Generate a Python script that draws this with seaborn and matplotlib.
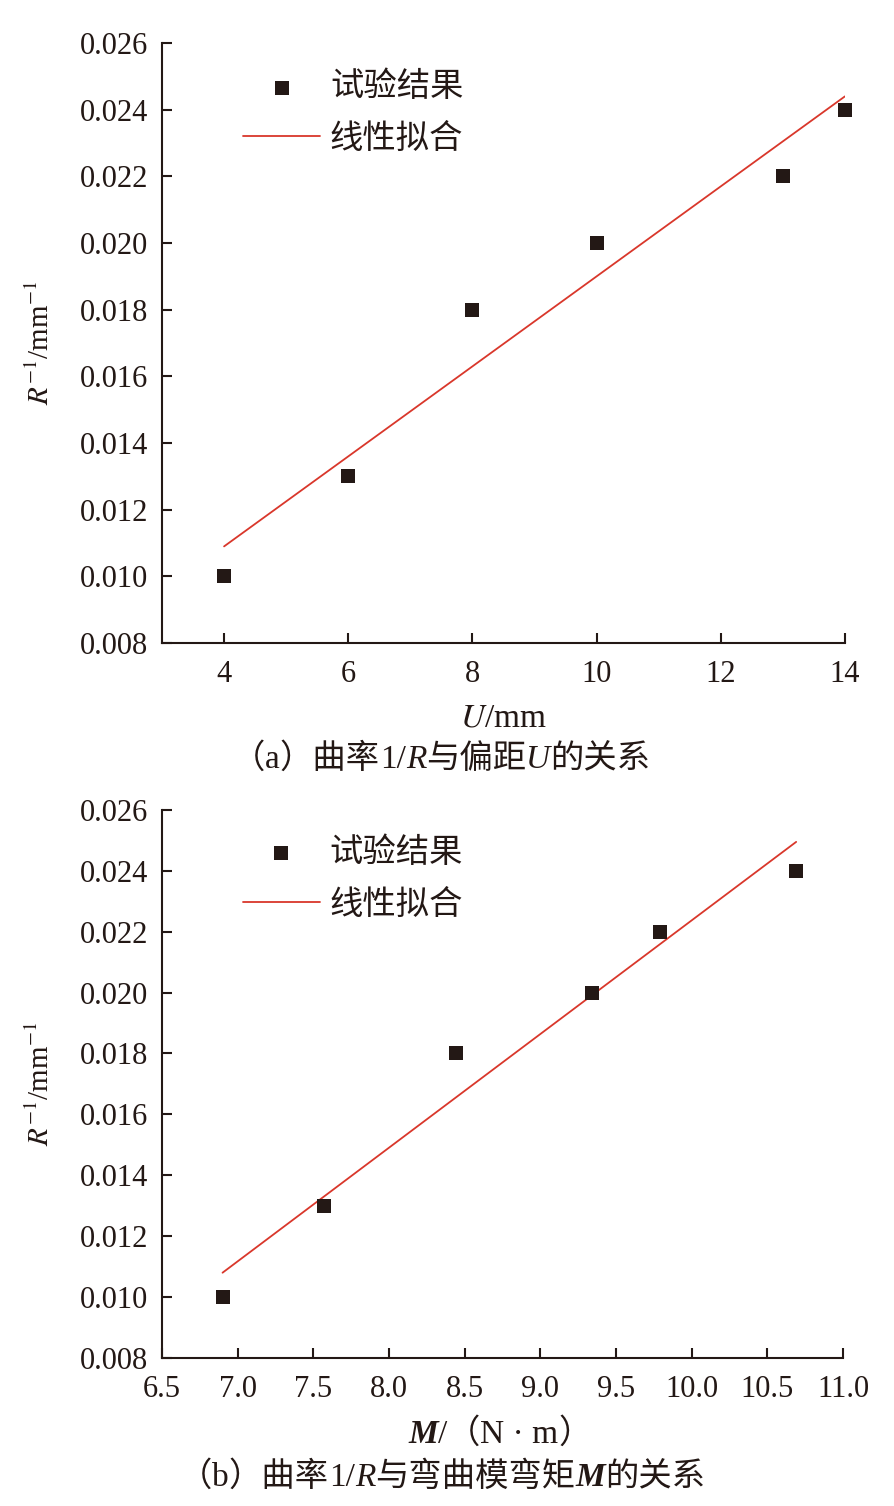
import matplotlib
matplotlib.use("Agg")
import matplotlib.pyplot as plt
import seaborn as sns
import pandas as pd

# ---- data ----
u_mm = [4, 6, 8, 10, 13, 14]
curv_a = [0.010, 0.013, 0.018, 0.020, 0.022, 0.024]
fit_a_x = [4, 14]
fit_a_y = [0.0109, 0.0244]

m_nm = [6.90, 7.57, 8.44, 9.34, 9.79, 10.69]
curv_b = [0.010, 0.013, 0.018, 0.020, 0.022, 0.024]
fit_b_x = [6.90, 10.69]
fit_b_y = [0.0108, 0.02495]

yticks = [0.008, 0.010, 0.012, 0.014, 0.016, 0.018, 0.020, 0.022, 0.024, 0.026]
xticks_a = [4, 6, 8, 10, 12, 14]
xticks_b = [6.5, 7.0, 7.5, 8.0, 8.5, 9.0, 9.5, 10.0, 10.5, 11.0]

legend_pts = "试验结果"
legend_fit = "线性拟合"
# rich-text pieces: (text, style): 'c' CJK, 'n' serif, 'i' italic, 'bi' bold italic
cap_a = [("（", 'c'), ("a", 'n'), ("）曲率", 'c'), ("1/", 'n'), ("R", 'i'),
         ("与偏距", 'c'), ("U", 'i'), ("的关系", 'c')]
cap_b = [("（", 'c'), ("b", 'n'), ("）曲率", 'c'), ("1/", 'n'), ("R", 'i'),
         ("与弯曲模弯矩", 'c'), ("M", 'bi'), ("的关系", 'c')]
xlab_b = [("M", 'bi'), ("/", 'n'), ("（", 'c'), ("N · m", 'n'), ("）", 'c')]

sns.set_style("ticks")
SERIF = 'Liberation Serif'
CJK = 'Noto Sans CJK SC'
FAM = [SERIF, CJK, 'DejaVu Sans']
plt.rcParams['font.family'] = FAM
plt.rcParams['mathtext.fontset'] = 'stix'
plt.rcParams['axes.unicode_minus'] = False

PT = '#231815'
RED = '#d9372b'
FS_NUM = 22
FS_TXT = 24

fig = plt.figure(figsize=(8.95, 15.06), dpi=100)
ax1 = fig.add_axes([0.181, 0.5730, 0.763, 0.3984])
ax2 = fig.add_axes([0.181, 0.0983, 0.761, 0.3639])

def style(ax, xt, xlim, fmt, top):
    ax.set_ylim(0.008, 0.026)
    ax.set_xlim(*xlim)
    ax.set_yticks(yticks)
    ax.set_yticklabels([f"{v:.3f}" for v in yticks], fontsize=FS_NUM, color=PT)
    ax.set_xticks(xt)
    ax.set_xticklabels([fmt(v) for v in xt], fontsize=FS_NUM, color=PT)
    for s in ['top', 'right']:
        ax.spines[s].set_visible(False)
    for s in ['left', 'bottom']:
        ax.spines[s].set_linewidth(1.5)
        ax.spines[s].set_color(PT)
    ax.tick_params(direction='in', length=7, width=1.5, colors=PT, pad=10)
    ax.tick_params(axis='x', pad=12)
    ax.set_ylabel("$R^{-1}$/mm$^{-1}$", fontsize=21, labelpad=18, color=PT)
    leg = ax.legend(loc='upper left', bbox_to_anchor=(0.119, top), frameon=False,
                    fontsize=FS_TXT, handlelength=2.3, handletextpad=0.3,
                    labelspacing=0.5, borderpad=0, borderaxespad=0,
                    prop={'family': CJK, 'size': FS_TXT})
    for t in leg.get_texts():
        t.set_color(PT)

df_a = pd.DataFrame({'x': u_mm, 'y': curv_a})
sns.scatterplot(data=df_a, x='x', y='y', ax=ax1, marker='s', s=95, color=PT,
                edgecolor=PT, linewidth=0, label=legend_pts, zorder=3, clip_on=False)
sns.lineplot(x=fit_a_x, y=fit_a_y, ax=ax1, color=RED, linewidth=1.3, label=legend_fit)
style(ax1, xticks_a, (3, 14), lambda v: f"{v:d}", 0.956)
ax1.set_xlabel("$U$/mm", fontsize=FS_TXT, labelpad=10, color=PT)

df_b = pd.DataFrame({'x': m_nm, 'y': curv_b})
sns.scatterplot(data=df_b, x='x', y='y', ax=ax2, marker='s', s=95, color=PT,
                edgecolor=PT, linewidth=0, label=legend_pts, zorder=3, clip_on=False)
sns.lineplot(x=fit_b_x, y=fit_b_y, ax=ax2, color=RED, linewidth=1.3, label=legend_fit)
style(ax2, xticks_b, (6.5, 11.0), lambda v: f"{v:.1f}", 0.954)
ax2.set_xlabel("")

renderer = fig.canvas.get_renderer()

def rich(xc_px, yc_px, pieces, size):
    texts = []
    for txt, st in pieces:
        kw = dict(fontsize=size, color=PT, va='baseline', ha='left')
        if st == 'c':
            kw['family'] = CJK
        else:
            kw['family'] = SERIF
        if st == 'i':
            kw['fontstyle'] = 'italic'
        elif st == 'bi':
            kw['fontstyle'] = 'italic'
            kw['fontweight'] = 'bold'
        t = fig.text(0, 0, txt, transform=None, **kw)
        texts.append(t)
    widths = [t.get_window_extent(renderer).width for t in texts]
    total = sum(widths)
    x = xc_px - total / 2
    H = fig.bbox.height
    base = H - yc_px - size * 100 / 72 * 0.33
    for t, w in zip(texts, widths):
        t.set_position((x, base))
        x += w

rich(441, 757, cap_a, FS_TXT)
rich(442, 1475, cap_b, FS_TXT)
rich(500, 1432, xlab_b, FS_TXT)

fig.savefig("out.png", dpi=100, facecolor='white')
